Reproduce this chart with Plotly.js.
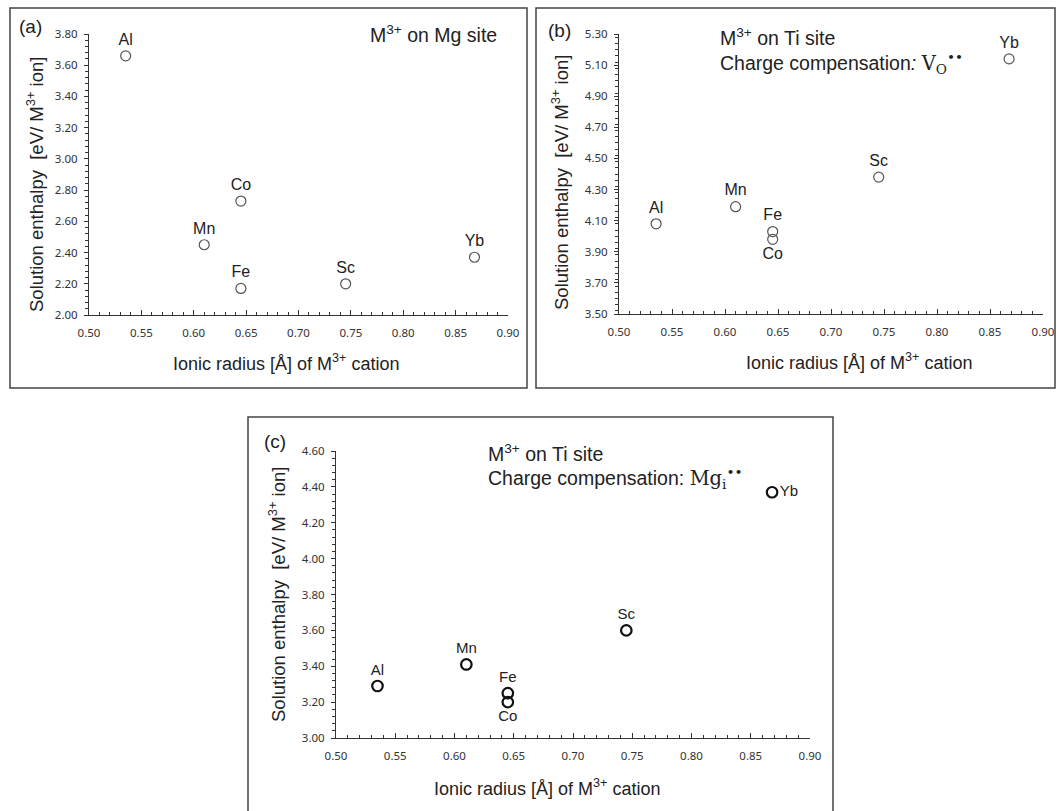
<!DOCTYPE html>
<html><head><meta charset="utf-8">
<script src="https://cdn.plot.ly/plotly-3.0.1.min.js"></script>
<style>html,body{margin:0;padding:0;background:#fff;} #chart{width:1057px;height:811px;}</style>
</head><body><div id="chart"></div>
<script>
// ---- data ----
const elements = ['Al', 'Mn', 'Fe', 'Co', 'Sc', 'Yb'];
const ionicRadius = [0.535, 0.61, 0.645, 0.645, 0.745, 0.868];
const enthalpyMgSite = [3.66, 2.45, 2.17, 2.73, 2.20, 2.37];
const enthalpyTiSiteVO = [4.08, 4.19, 4.03, 3.98, 4.38, 5.14];
const enthalpyTiSiteMgi = [3.29, 3.41, 3.25, 3.20, 3.60, 4.37];
const xRange = [0.50, 0.90];
const yRangeA = [2.00, 3.80];
const yRangeB = [3.50, 5.30];
const yRangeC = [3.00, 4.60];
const panelLabels = ['(a)', '(b)', '(c)'];
const xTitle = 'Ionic radius [Å] of M<sup>3+</sup> cation';
const yTitle = 'Solution enthalpy  [eV/ M<sup>3+</sup> ion]';

// ---- layout helpers ----
const W = 1057, H = 811;
const px = x => x / W, py = y => 1 - y / H;
const arial = 'Liberation Sans, Arial, sans-serif';
const tickFont = {family: 'Noto Sans, Open Sans, sans-serif', size: 11.5, color: '#333'};
const labelFontAB = {family: arial, size: 16, color: '#222'};
const labelFontC = {family: arial, size: 15, color: '#222'};

function xax(domain, anchor) {
  return {domain: domain, anchor: anchor, range: xRange, tick0: 0.5, dtick: 0.05, tickformat: '.2f',
    ticks: 'inside', ticklen: 5, tickcolor: '#333', showline: true, linecolor: '#333', linewidth: 1,
    showgrid: false, zeroline: false, tickfont: tickFont, ticklabelstandoff: 7,
    minor: {ticks: 'inside', dtick: 0.01, ticklen: 3, tickcolor: '#333'}};
}
function yax(domain, anchor, range) {
  return {domain: domain, anchor: anchor, range: range, tick0: range[0], dtick: 0.2, tickformat: '.2f',
    ticks: 'outside', ticklen: 4, tickcolor: '#333', showline: true, linecolor: '#333', linewidth: 1,
    showgrid: false, zeroline: false, tickfont: tickFont, ticklabelstandoff: 4,
    minor: {ticks: 'outside', dtick: 0.04, ticklen: 3, tickcolor: '#333'}};
}

const posA = ['top center', 'top center', 'top center', 'top center', 'top center', 'top center'];
const posB = ['top center', 'top center', 'top center', 'bottom center', 'top center', 'top center'];
const posC = ['top center', 'top center', 'top center', 'bottom center', 'top center', 'middle right'];

const traces = [
  {x: ionicRadius, y: enthalpyMgSite, text: elements, textposition: posA, xaxis: 'x', yaxis: 'y',
   mode: 'markers+text', cliponaxis: false, textfont: labelFontAB,
   marker: {symbol: 'circle-open', size: 10, color: '#555', line: {width: 1.2}}},
  {x: ionicRadius, y: enthalpyTiSiteVO, text: elements, textposition: posB, xaxis: 'x2', yaxis: 'y2',
   mode: 'markers+text', cliponaxis: false, textfont: labelFontAB,
   marker: {symbol: 'circle-open', size: 10, color: '#555', line: {width: 1.2}}},
  {x: ionicRadius, y: enthalpyTiSiteMgi, text: elements, textposition: posC, xaxis: 'x3', yaxis: 'y3',
   mode: 'markers+text', cliponaxis: false, textfont: labelFontC,
   marker: {symbol: 'circle-open', size: 10.5, color: '#111', line: {width: 2.2}}}
];

const frame = (x0, y0, x1, y1) => ({type: 'rect', xref: 'paper', yref: 'paper',
  x0: px(x0), x1: px(x1), y0: py(y1), y1: py(y0), line: {color: '#444', width: 1.5}, fillcolor: 'rgba(0,0,0,0)'});

const note = (x, y, text, size, anchor, angle) => ({xref: 'paper', yref: 'paper', x: px(x), y: py(y), text: text,
  showarrow: false, xanchor: anchor || 'left', yanchor: 'middle', align: 'left', textangle: angle || 0,
  font: {family: arial, size: size, color: '#222'}});

const serif = "font-family:'DejaVu Serif','Liberation Serif',serif";

const layout = {
  width: W, height: H, margin: {l: 0, r: 0, t: 0, b: 0},
  paper_bgcolor: '#fff', plot_bgcolor: '#fff', showlegend: false,
  xaxis: xax([px(89), px(508)], 'y'),
  yaxis: yax([py(315), py(34)], 'x', yRangeA),
  xaxis2: xax([px(619), px(1043)], 'y2'),
  yaxis2: yax([py(314), py(34)], 'x2', yRangeB),
  xaxis3: xax([px(336), px(810)], 'y3'),
  yaxis3: yax([py(738), py(451)], 'x3', yRangeC),
  shapes: [frame(10, 8, 527, 388), frame(536, 8, 1055, 388), frame(248, 417, 833, 812)],
  annotations: [
    // axis titles
    note(286, 363, xTitle, 18, 'center'),
    note(859, 361, xTitle, 18, 'center'),
    note(547, 787, xTitle, 18, 'center'),
    note(35, 185, yTitle, 18.5, 'center', -90),
    note(560, 183, yTitle, 18.5, 'center', -90),
    note(277, 595, yTitle, 18.5, 'center', -90),
    // panel letters
    note(17, 27, panelLabels[0], 19),
    note(546, 30, panelLabels[1], 19),
    note(262, 441, panelLabels[2], 19),
    // panel notes
    note(368, 34, 'M<sup>3+</sup> on Mg site', 19.5),
    note(718, 37, 'M<sup>3+</sup> on Ti site', 19.5),
    note(718, 63, 'Charge compensation<i>:</i> <span style="' + serif + '">V<sub>O</sub><sup>••</sup></span>', 19.5),
    note(486, 453, 'M<sup>3+</sup> on Ti site', 19.5),
    note(486, 478, 'Charge compensation: <span style="' + serif + '">Mg<sub>i</sub><sup>••</sup></span>', 19.5)
  ]
};

Plotly.newPlot('chart', traces, layout, {staticPlot: true, displayModeBar: false});
</script>
</body></html>
